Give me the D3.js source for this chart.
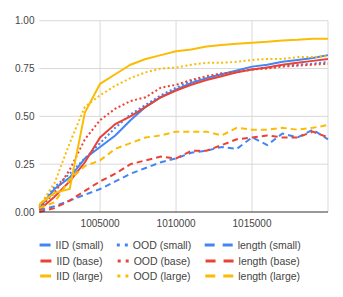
<!DOCTYPE html>
<html>
<head>
<meta charset="utf-8">
<script src="https://cdn.jsdelivr.net/npm/d3@7"></script>
<style>
  body { margin: 0; background: #fff; }
  text { font-family: Arial, "Liberation Sans", sans-serif; fill: #444; }
</style>
</head>
<body>
<svg width="343" height="297"></svg>
<script>
const svg = d3.select("svg");

// DATA
const steps = d3.range(1001000, 1020001, 1000);
const xTicks = [1005000, 1010000, 1015000, 1020000];
const yTicks = [0, 0.25, 0.5, 0.75, 1];

const iidSmall = [0.02, 0.12, 0.18, 0.28, 0.34, 0.40, 0.48, 0.55, 0.60, 0.64, 0.675, 0.70, 0.72, 0.74, 0.76, 0.77, 0.785, 0.795, 0.805, 0.82];
const oodSmall = [0.03, 0.13, 0.20, 0.28, 0.36, 0.44, 0.51, 0.56, 0.61, 0.65, 0.685, 0.70, 0.72, 0.735, 0.745, 0.755, 0.765, 0.77, 0.775, 0.785];
const lenSmall = [0.01, 0.03, 0.06, 0.09, 0.12, 0.16, 0.20, 0.23, 0.26, 0.28, 0.31, 0.32, 0.34, 0.33, 0.39, 0.35, 0.41, 0.39, 0.43, 0.38];
const iidBase = [0.01, 0.08, 0.16, 0.26, 0.39, 0.46, 0.50, 0.55, 0.60, 0.635, 0.665, 0.69, 0.71, 0.73, 0.745, 0.755, 0.77, 0.78, 0.79, 0.80];
const oodBase = [0.02, 0.10, 0.22, 0.38, 0.48, 0.54, 0.58, 0.60, 0.65, 0.665, 0.69, 0.71, 0.725, 0.73, 0.745, 0.75, 0.76, 0.765, 0.77, 0.775];
const lenBase = [0.00, 0.02, 0.06, 0.11, 0.16, 0.20, 0.25, 0.27, 0.29, 0.28, 0.32, 0.32, 0.35, 0.38, 0.39, 0.40, 0.39, 0.39, 0.42, 0.39];
const iidLarge = [0.04, 0.10, 0.12, 0.52, 0.67, 0.72, 0.77, 0.80, 0.82, 0.84, 0.85, 0.865, 0.873, 0.88, 0.885, 0.89, 0.897, 0.90, 0.905, 0.905];
const oodLarge = [0.03, 0.15, 0.36, 0.55, 0.61, 0.66, 0.70, 0.73, 0.75, 0.755, 0.77, 0.78, 0.78, 0.785, 0.795, 0.80, 0.80, 0.81, 0.81, 0.815];
const lenLarge = [0.02, 0.05, 0.17, 0.24, 0.27, 0.33, 0.36, 0.39, 0.40, 0.42, 0.42, 0.42, 0.40, 0.44, 0.43, 0.43, 0.44, 0.43, 0.44, 0.455];

const blue = "#4285F4", red = "#EA4335", yellow = "#FBBC04";
const dotted = "2,2.5", dashed = "6,4";

const series = [
  { name: "IID (small)", values: iidSmall, color: blue, dash: null },
  { name: "OOD (small)", values: oodSmall, color: blue, dash: dotted },
  { name: "length (small)", values: lenSmall, color: blue, dash: dashed },
  { name: "IID (base)", values: iidBase, color: red, dash: null },
  { name: "OOD (base)", values: oodBase, color: red, dash: dotted },
  { name: "length (base)", values: lenBase, color: red, dash: dashed },
  { name: "IID (large)", values: iidLarge, color: yellow, dash: null },
  { name: "OOD (large)", values: oodLarge, color: yellow, dash: dotted },
  { name: "length (large)", values: lenLarge, color: yellow, dash: dashed }
];

// SCALES
const x = d3.scaleLinear().domain([1001000, 1020000]).range([39.3, 328]);
const y = d3.scaleLinear().domain([0, 1]).range([212, 20.7]);

// GRID
svg.append("g").selectAll("line")
  .data(yTicks.filter(d => d > 0))
  .join("line")
  .attr("x1", x.range()[0]).attr("x2", x.range()[1])
  .attr("y1", d => y(d)).attr("y2", d => y(d))
  .attr("stroke", "#d9d9d9").attr("stroke-width", 1);

svg.append("g").selectAll("line")
  .data(xTicks)
  .join("line")
  .attr("x1", d => x(d)).attr("x2", d => x(d))
  .attr("y1", y(0)).attr("y2", y(1))
  .attr("stroke", "#d9d9d9").attr("stroke-width", 1);

// AXIS LABELS
svg.append("g").selectAll("text")
  .data(yTicks)
  .join("text")
  .attr("x", 34.5)
  .attr("y", d => y(d) + 3.5)
  .attr("text-anchor", "end")
  .attr("font-size", "10px")
  .text(d => d.toFixed(2));

svg.append("g").selectAll("text")
  .data(xTicks.slice(0, 3)) // last tick label is clipped in the original
  .join("text")
  .attr("x", d => x(d))
  .attr("y", 227)
  .attr("text-anchor", "middle")
  .attr("font-size", "10px")
  .text(d => d);

// LINES
const line = d3.line()
  .x((d, i) => x(steps[i]))
  .y(d => y(d));

svg.append("g").selectAll("path")
  .data(series)
  .join("path")
  .attr("d", d => line(d.values))
  .attr("fill", "none")
  .attr("stroke", d => d.color)
  .attr("stroke-width", 2)
  .attr("stroke-dasharray", d => d.dash);

// baseline
svg.append("line")
  .attr("x1", x.range()[0]).attr("x2", x.range()[1])
  .attr("y1", y(0)).attr("y2", y(0))
  .attr("stroke", "#333").attr("stroke-width", 1);

// LEGEND
const colCenters = [71.5, 154, 252.7];
const rowY = [245, 261, 276];
series.forEach((s, i) => {
  const col = i % 3, row = Math.floor(i / 3);
  const symW = s.dash === dashed ? 28 : 11;
  const g = svg.append("g");
  const label = g.append("text")
    .attr("font-size", "10.5px")
    .attr("y", rowY[row] + 4)
    .text(s.name);
  const tw = label.node().getComputedTextLength();
  const total = symW + 5 + tw;
  const x0 = colCenters[col] - total / 2;
  label.attr("x", x0 + symW + 5);
  const sym = g.append("line")
    .attr("x1", x0).attr("x2", x0 + symW)
    .attr("y1", rowY[row]).attr("y2", rowY[row])
    .attr("stroke", s.color)
    .attr("stroke-width", 3);
  if (s.dash === dotted) sym.attr("stroke-dasharray", "3,5");
  if (s.dash === dashed) sym.attr("stroke-dasharray", "10,8");
});
</script>
</body>
</html>
